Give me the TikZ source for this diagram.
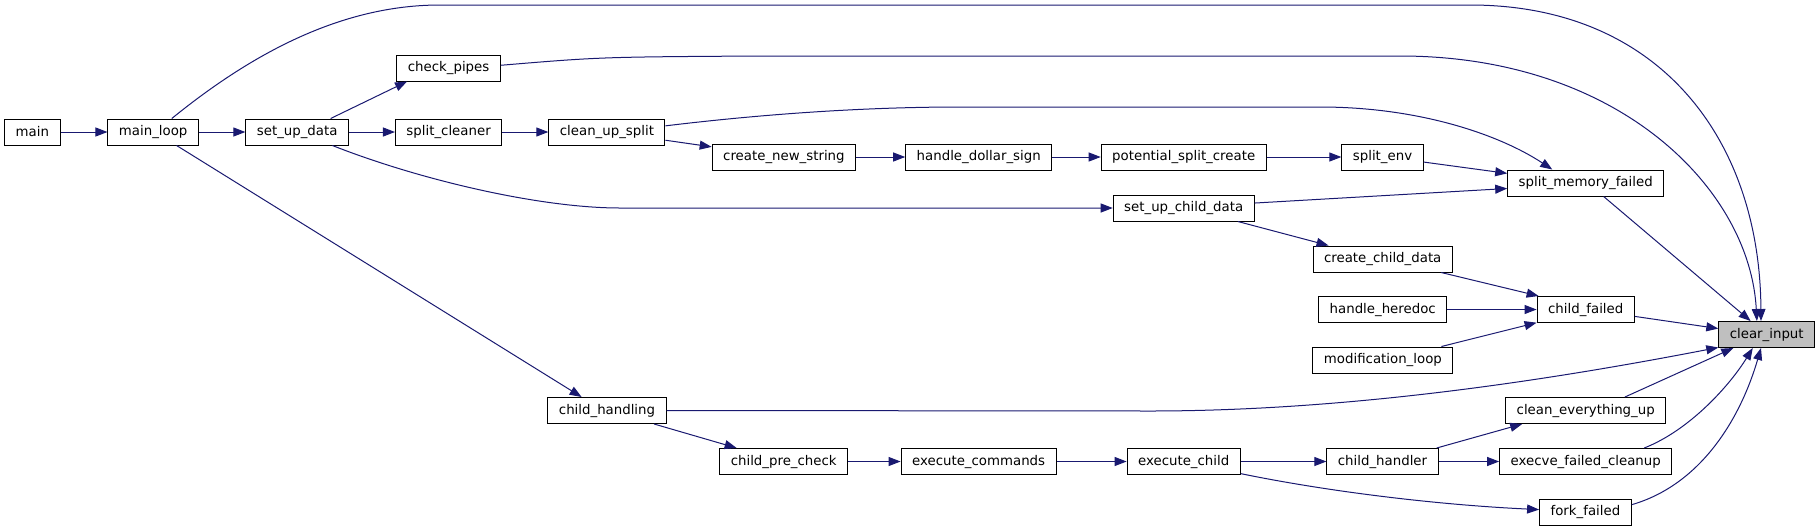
\documentclass[tikz,border=0pt]{standalone}
\usepackage{fontspec}
\setmainfont{DejaVu Sans}
\usepackage{xcolor}
\usetikzlibrary{arrows.meta}
\definecolor{callblue}{HTML}{191970}

\begin{document}
\begin{tikzpicture}[x=1pt,y=-1pt,
    fn/.style={draw=black,line width=1pt,fill=white,inner xsep=11pt,inner ysep=0pt,
      minimum height=26pt,font=\fontsize{13.33}{16}\selectfont},
    call/.style={draw=callblue,line width=1pt,-{Triangle[length=12pt,width=9pt,fill=callblue]}}]
  \useasboundingbox (0,0) rectangle (1819,531);
  % functions, column by column
  \node[fn] (main) at (32.4,132) {main};
  \node[fn] (mainloop) at (153.2,132) {main\_loop};
  \node[fn] (setupdata) at (297.2,132) {set\_up\_data};
  \node[fn] (checkpipes) at (448.6,68) {check\_pipes};
  \node[fn] (splitcleaner) at (448.6,132) {split\_cleaner};
  \node[fn] (cleanupsplit) at (606.9,132) {clean\_up\_split};
  \node[fn] (childhandling) at (607,410.5) {child\_handling};
  \node[fn] (createnewstring) at (783.9,157) {create\_new\_string};
  \node[fn] (childprecheck) at (783.7,461.5) {child\_pre\_check};
  \node[fn] (handledollar) at (978.7,157) {handle\_dollar\_sign};
  \node[fn] (executecommands) at (978.6,461.5) {execute\_commands};
  \node[fn] (potentialsplit) at (1183.7,157) {potential\_split\_create};
  \node[fn] (setupchild) at (1183.7,208) {set\_up\_child\_data};
  \node[fn] (executechild) at (1183.7,461.5) {execute\_child};
  \node[fn] (splitenv) at (1382.5,157) {split\_env};
  \node[fn] (createchild) at (1382.7,259) {create\_child\_data};
  \node[fn] (heredoc) at (1382.7,309.5) {handle\_heredoc};
  \node[fn] (modloop) at (1382.9,360) {modification\_loop};
  \node[fn] (childhandler) at (1382.5,461.5) {child\_handler};
  \node[fn] (splitmemory) at (1585.7,183) {split\_memory\_failed};
  \node[fn] (childfailed) at (1585.7,309.5) {child\_failed};
  \node[fn] (cleaneverything) at (1585.7,410.5) {clean\_everything\_up};
  \node[fn] (execvefailed) at (1585.7,461.5) {execve\_failed\_cleanup};
  \node[fn] (forkfailed) at (1585.4,512) {fork\_failed};
  \node[fn,fill=black!25] (clearinput) at (1766.7,334.5) {clear\_input};

  % straight calls along a row
  \foreach \a/\b in {main/mainloop,mainloop/setupdata,setupdata/splitcleaner,
      splitcleaner/cleanupsplit,createnewstring/handledollar,handledollar/potentialsplit,
      potentialsplit/splitenv,heredoc/childfailed,childprecheck/executecommands,
      executecommands/executechild,executechild/childhandler,childhandler/execvefailed}
    \draw[call] (\a) -- (\b);

  % slanted calls
  \draw[call] (setupdata.22) -- (checkpipes.198);
  \draw[call] (cleanupsplit.-8) -- (createnewstring.172);
  \draw[call] (splitenv.-7) -- (splitmemory.173);
  \draw[call] (setupchild.4) -- (splitmemory.184);
  \draw[call] (setupchild.-14) -- (createchild.166);
  \draw[call] (createchild.-13.5) -- (childfailed.164);
  \draw[call] (modloop.13.5) -- (childfailed.195);
  \draw[call] (childfailed.-8) -- (clearinput.173);
  \draw[call] (splitmemory.-37) -- (clearinput.140);
  \draw[call] (cleaneverything.19) -- (clearinput.202);
  \draw[call] (mainloop.-30) -- (childhandling.152);
  \draw[call] (childhandling.-16) -- (childprecheck.164);
  \draw[call] (childhandler.14.5) -- (cleaneverything.192);

  % long curved calls
  \draw[call] (cleanupsplit.6) .. controls (780,112) and (880,107) .. (960,107) -- (1320,107)
    .. controls (1420,107) and (1500,135) .. (splitmemory.158);
  \draw[call] (setupdata.-21.5) .. controls (420,180) and (540,208) .. (620,208)
    -- (setupchild.west);
  \draw[call] (mainloop.36) .. controls (250,55) and (340,5) .. (440,5) -- (1470,5)
    .. controls (1660,5) and (1760,140) .. (clearinput.113);
  \draw[call] (checkpipes.3) .. controls (600,57) .. (760,56) -- (1400,56)
    .. controls (1620,56) and (1750,190) .. (clearinput.126);
  \draw[call] (childhandling.east) -- (1150,411)
    .. controls (1350,411) and (1550,380) .. (clearinput.195);
  \draw[call] (execvefailed.13) .. controls (1690,430) and (1730,385) .. (clearinput.224);
  \draw[call] (forkfailed.9) .. controls (1700,485) and (1740,420) .. (clearinput.247);
  \draw[call] (executechild.-12) .. controls (1330,492) and (1440,505) .. (forkfailed.177);
\end{tikzpicture}
\end{document}
